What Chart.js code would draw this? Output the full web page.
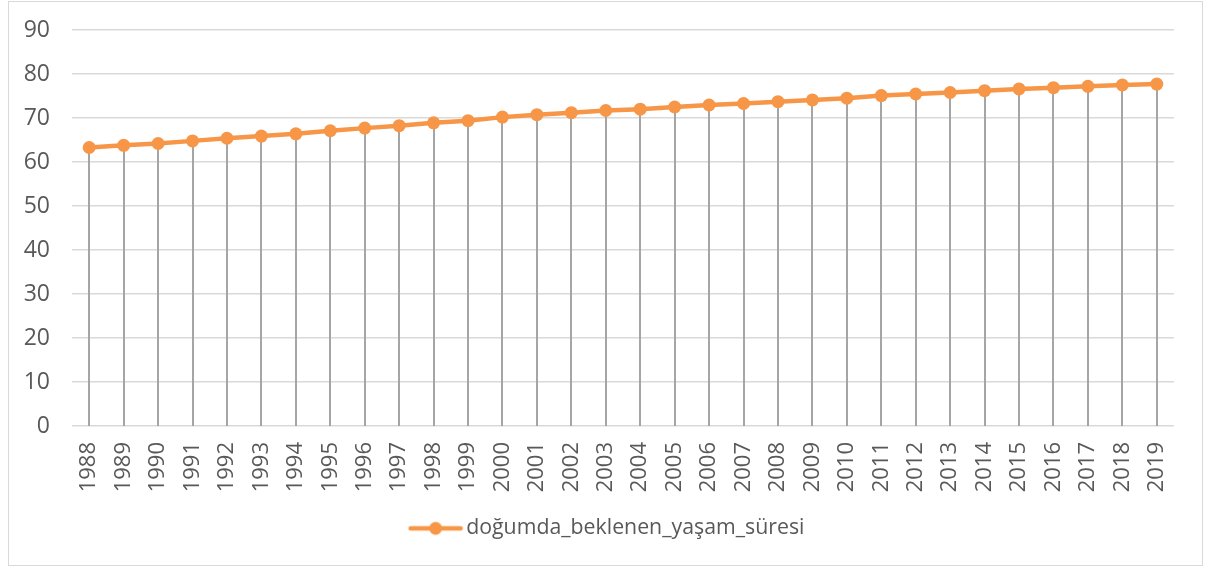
<!DOCTYPE html>
<html>
<head>
<meta charset="utf-8">
<script src="https://cdn.jsdelivr.net/npm/chart.js@4/dist/chart.umd.min.js"></script>
<style>
  html, body { margin: 0; padding: 0; background: #fff; }
  #lifeChart { display: block; }
</style>
</head>
<body>
<canvas id="lifeChart" width="1207" height="567"></canvas>
<script>
const years = ['1988', '1989', '1990', '1991', '1992', '1993', '1994', '1995', '1996', '1997',
    '1998', '1999', '2000', '2001', '2002', '2003', '2004', '2005', '2006', '2007',
    '2008', '2009', '2010', '2011', '2012', '2013', '2014', '2015', '2016', '2017',
    '2018', '2019'];
const lifeExpectancy = [63.3, 63.8, 64.2, 64.8, 65.4, 65.9, 66.4, 67.1, 67.7, 68.25,
    68.9, 69.4, 70.2, 70.75, 71.2, 71.7, 72.0, 72.5, 72.95, 73.3,
    73.7, 74.1, 74.5, 75.1, 75.45, 75.8, 76.2, 76.6, 76.9, 77.2,
    77.5, 77.7];
const seriesName = 'doğumda_beklenen_yaşam_süresi';
const yMin = 0;
const yMax = 90;
const yStep = 10;

const ORANGE = '#F79646';
const FONT = "'Open Sans', 'Liberation Sans', sans-serif";

// legend marker: short line with a dot, like Excel
function makeLegendMarker() {
    const c = document.createElement('canvas');
    c.width = 56;
    c.height = 16;
    const g = c.getContext('2d');
    g.strokeStyle = ORANGE;
    g.lineWidth = 4.5;
    g.lineCap = 'round';
    g.beginPath();
    g.moveTo(3, 8);
    g.lineTo(53, 8);
    g.stroke();
    g.fillStyle = ORANGE;
    g.beginPath();
    g.arc(28, 8, 6.5, 0, Math.PI * 2);
    g.fill();
    return c;
}

// gray vertical lines from every point down to zero
const dropLines = {
    id: 'dropLines',
    beforeDatasetsDraw(chart) {
        const meta = chart.getDatasetMeta(0);
        const yScale = chart.scales.y;
        const base = yScale.getPixelForValue(0);
        const ctx = chart.ctx;
        ctx.save();
        ctx.strokeStyle = '#A5A5A5';
        ctx.lineWidth = 2;
        meta.data.forEach(pt => {
            const x = Math.round(pt.x);
            ctx.beginPath();
            ctx.moveTo(x, pt.y);
            ctx.lineTo(x, base);
            ctx.stroke();
        });
        ctx.restore();
    }
};

const frame = {
    id: 'frame',
    afterLayout(chart) {
        // legend sits a little right of the plot centre in the original
        chart.legend.left += 23;
        chart.legend.right += 23;
    },
    beforeDraw(chart) {
        const ctx = chart.ctx;
        ctx.save();
        ctx.fillStyle = '#fff';
        ctx.fillRect(0, 0, chart.width, chart.height);
        ctx.strokeStyle = '#D9D9D9';
        ctx.lineWidth = 1;
        ctx.strokeRect(8.5, 1.5, 1194, 564);
        ctx.restore();
    }
};

const legendMarker = makeLegendMarker();

new Chart(document.getElementById('lifeChart').getContext('2d'), {
    type: 'line',
    data: {
        labels: years,
        datasets: [{
            label: seriesName,
            data: lifeExpectancy,
            borderColor: ORANGE,
            backgroundColor: ORANGE,
            borderWidth: 4.5,
            pointRadius: 6.5,
            pointBorderWidth: 0,
            pointBackgroundColor: ORANGE,
            tension: 0,
            fill: false
        }]
    },
    options: {
        responsive: false,
        animation: false,
        devicePixelRatio: 1,
        layout: {
            padding: { top: 30, right: 33, bottom: 18, left: 0 }
        },
        plugins: {
            tooltip: { enabled: false },
            legend: {
                position: 'bottom',
                labels: {
                    usePointStyle: true,
                    pointStyleWidth: 40,
                    padding: 11,
                    color: '#595959',
                    font: { family: FONT, size: 21.3 },
                    generateLabels(chart) {
                        const items = Chart.defaults.plugins.legend.labels.generateLabels(chart);
                        items.forEach(item => {
                            item.pointStyle = legendMarker;
                        });
                        return items;
                    }
                }
            }
        },
        scales: {
            x: {
                offset: true,
                grid: { display: false, drawTicks: false },
                border: { display: false },
                ticks: {
                    minRotation: 90,
                    maxRotation: 90,
                    autoSkip: false,
                    padding: 16,
                    color: '#595959',
                    font: { family: FONT, size: 22 }
                },
                afterFit(scale) {
                    scale.height = 80.7;
                }
            },
            y: {
                min: yMin,
                max: yMax,
                grid: { color: '#D9D9D9', lineWidth: 1.5, drawTicks: false },
                border: { display: false },
                ticks: {
                    stepSize: yStep,
                    padding: 22,
                    color: '#595959',
                    font: { family: FONT, size: 23 }
                },
                afterFit(scale) {
                    scale.width = 72;
                    scale.paddingTop = 0;
                    scale.paddingBottom = 0;
                }
            }
        }
    },
    plugins: [frame, dropLines]
});
</script>
</body>
</html>
